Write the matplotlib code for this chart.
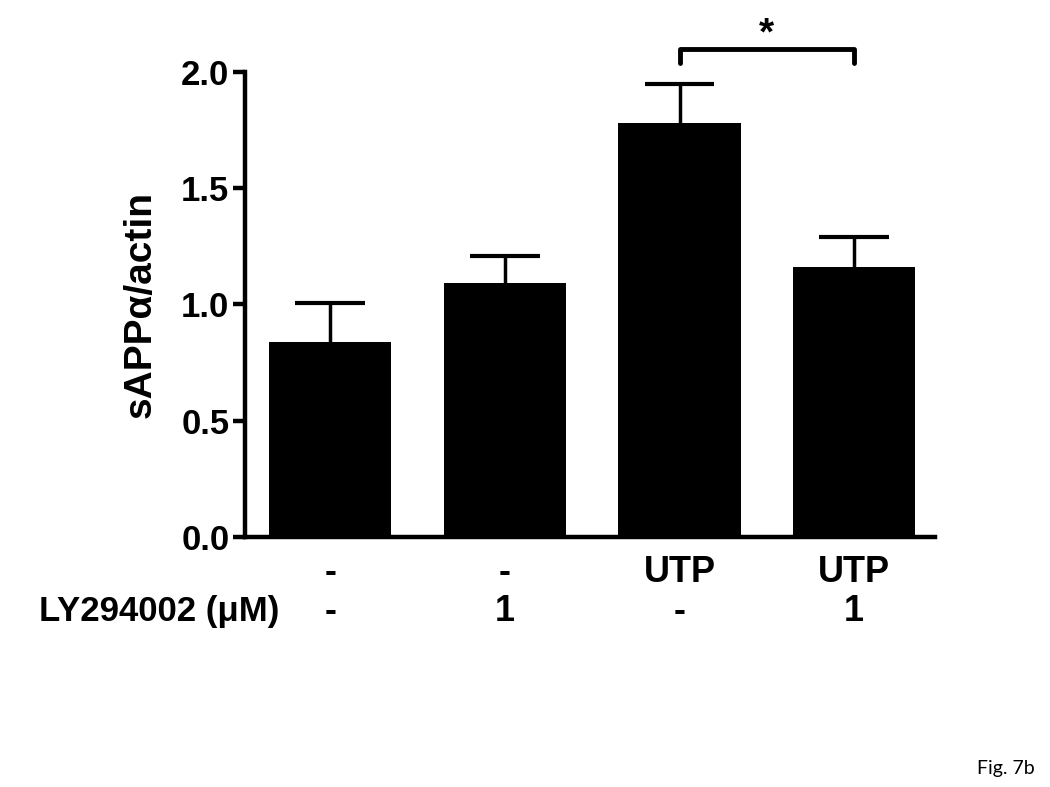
import numpy as np
import matplotlib
matplotlib.use("Agg")
import matplotlib.pyplot as plt

# data
means = [0.84, 1.09, 1.78, 1.16]
errs = [0.165, 0.12, 0.17, 0.13]
row1 = ['-', '-', 'UTP', 'UTP']
row2 = ['-', '1', '-', '1']
yticks = [0.0, 0.5, 1.0, 1.5, 2.0]

plt.rcParams['font.family'] = ['Liberation Sans', 'DejaVu Sans']
plt.rcParams['font.weight'] = 'bold'

fig = plt.figure(figsize=(10.5, 7.87), dpi=100)
ax = fig.add_axes([0.233, 0.318, 0.657, 0.5905])

x = np.arange(len(means))
ax.bar(x, means, width=0.7, color='black', zorder=2)
# upper error bars only
ax.vlines(x, means, np.add(means, errs), color='black', lw=2.5, zorder=1)
ax.hlines(np.add(means, errs), x - 0.2, x + 0.2, color='black', lw=3, zorder=1)

ax.set_xlim(-0.49, 3.46)
ax.set_ylim(0, 2.0)
ax.set_yticks(yticks)
ax.set_yticklabels(['%.1f' % t for t in yticks], fontsize=25, fontweight='bold')
ax.set_xticks([])
for s in ['top', 'right']:
    ax.spines[s].set_visible(False)
for s in ['left', 'bottom']:
    ax.spines[s].set_linewidth(3.2)
ax.tick_params(axis='y', length=9, width=3.2, pad=2)
ax.set_ylabel('sAPPα/actin', fontsize=28, fontweight='bold', labelpad=16)

# condition rows under the axis
for i in range(len(means)):
    ax.text(x[i], -0.155, row1[i], ha='center', va='center', fontsize=26,
            fontweight='bold', clip_on=False)
    ax.text(x[i], -0.32, row2[i], ha='center', va='center', fontsize=26,
            fontweight='bold', clip_on=False)
ax.text(-0.29, -0.32, 'LY294002 (μM)', ha='right', va='center', fontsize=25,
        fontweight='bold', clip_on=False)

# significance bracket
ax.plot([2, 2, 3, 3], [2.04, 2.10, 2.10, 2.04], color='black', lw=3.5,
        solid_capstyle='round', solid_joinstyle='round', clip_on=False)
ax.text(2.5, 2.16, '*', ha='center', va='center', fontsize=28, fontweight='bold',
        clip_on=False)

fig.text(0.958, 0.024, 'Fig. 7b', ha='center', va='center', fontsize=14,
         fontweight='normal', family=['Lato', 'DejaVu Sans'])

fig.savefig('out.png', dpi=100)
